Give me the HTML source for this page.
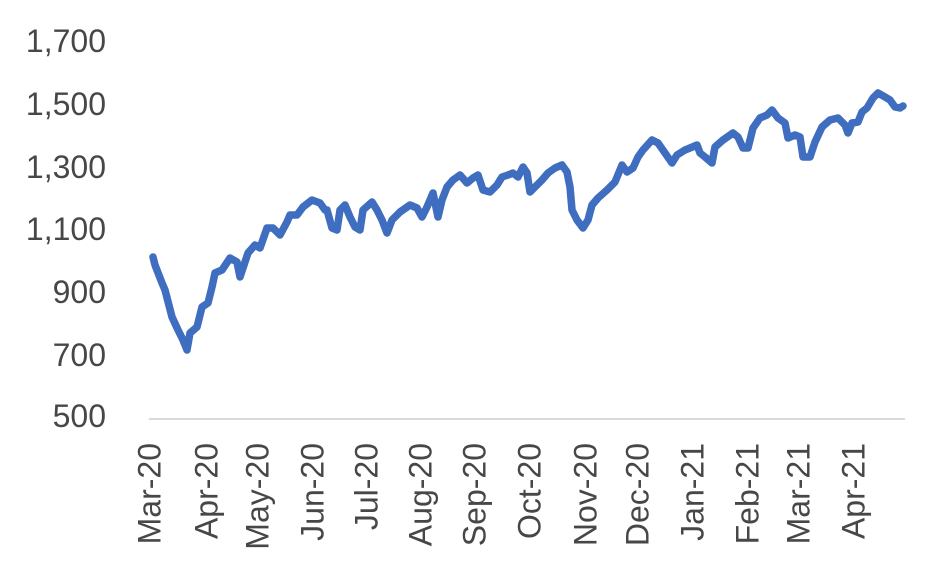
<!DOCTYPE html>
<html><head><meta charset="utf-8"><style>
html,body{margin:0;padding:0;background:#fff;}
svg{display:block;}
text{font-family:"Liberation Sans",Arial,sans-serif;font-size:32px;fill:#474747;}
</style></head><body>
<svg width="944" height="577" viewBox="0 0 944 577" xmlns="http://www.w3.org/2000/svg">
<line x1="149" y1="419" x2="905" y2="419" stroke="#d9d9d9" stroke-width="2"/>
<g text-anchor="end">
<text x="106" y="52">1,700</text>
<text x="106" y="115">1,500</text>
<text x="106" y="178">1,300</text>
<text x="106" y="240">1,100</text>
<text x="106" y="303">900</text>
<text x="106" y="366">700</text>
<text x="106" y="427">500</text>
</g>
<g text-anchor="end">
<text transform="translate(160.5,443) rotate(-90)">Mar-20</text>
<text transform="translate(217.5,443) rotate(-90)">Apr-20</text>
<text transform="translate(268.5,443) rotate(-90)">May-20</text>
<text transform="translate(323.5,443) rotate(-90)">Jun-20</text>
<text transform="translate(377.5,443) rotate(-90)">Jul-20</text>
<text transform="translate(431.5,443) rotate(-90)">Aug-20</text>
<text transform="translate(485.5,443) rotate(-90)">Sep-20</text>
<text transform="translate(540.5,443) rotate(-90)">Oct-20</text>
<text transform="translate(596.5,443) rotate(-90)">Nov-20</text>
<text transform="translate(648.5,443) rotate(-90)">Dec-20</text>
<text transform="translate(703.5,443) rotate(-90)">Jan-21</text>
<text transform="translate(758.5,443) rotate(-90)">Feb-21</text>
<text transform="translate(809.5,443) rotate(-90)">Mar-21</text>
<text transform="translate(864.5,443) rotate(-90)">Apr-21</text>
</g>
<polyline fill="none" stroke="#3f6dc0" stroke-width="7.5" stroke-linejoin="round" stroke-linecap="round" points="
153,257 155,265 162,283 165,290 172,317 178,330 183,340 187,350 190,333 197,327 202,307 208,303 212,287 215,273 222,270 230,258 237,262 240,277 243,268 248,253 255,245 260,248 267,228 273,228 280,235 287,222 290,215 297,215 303,207 312,200 320,203 325,210 327,210 332,228 337,230 340,210 345,205 350,217 355,227 360,230 363,210 372,202 377,210 382,220 387,233 392,220 400,212 410,205 417,208 422,217 427,207 433,193 438,217 442,200 447,187 453,180 460,175 467,183 473,178 478,175 483,190 490,192 497,185 502,177 508,175 513,173 518,177 523,167 527,173 530,192 537,185 542,180 548,173 555,168 562,165 567,172 570,187 572,210 577,220 583,228 588,220 592,205 598,198 607,190 615,182 622,165 627,172 633,168 638,157 643,150 652,140 658,143 665,153 672,163 677,155 685,150 690,148 697,145 700,153 705,157 712,163 715,147 723,140 733,133 738,137 743,148 748,148 753,128 760,118 767,115 772,110 778,118 785,123 788,138 795,135 800,137 803,157 810,157 815,142 822,127 830,120 838,118 845,125 848,133 852,123 858,122 862,112 867,108 873,98 878,93 885,97 890,100 895,107 900,108 903,106"/>
</svg>
</body></html>
